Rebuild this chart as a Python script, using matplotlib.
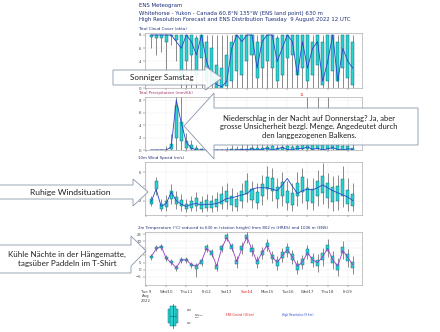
import matplotlib
matplotlib.use('Agg')
import matplotlib.pyplot as plt
from matplotlib.patches import Polygon, Rectangle

W, H = 440, 332

## time axis: 6-hourly steps, days since Tue 9 Aug 00 UTC ##
steps = [0.25 + 0.25 * i for i in range(41)]
day_labels = ['Tue 9\nAug\n2022', 'Wed10', 'Thu11', 'Fri12', 'Sat13', 'Sun14',
              'Mon15', 'Tue16', 'Wed17', 'Thu18', 'Fri19']

## Total cloud cover (okta) ##
cc_lo = [6, 5, 5.5, 2, 6.5, 4, 0, 0, 0, 0, 0, 0, 0, 0, 0, 0, 0, 0, 0, 0, 0,
         0, 0, 0, 0, 0, 0, 0, 0, 0, 0, 0, 0, 0, 0, 0, 0, 0, 0, 0, 0]
cc_q25 = [7.7, 7.5, 7.6, 7, 7.8, 7.2, 1.5, 4, 5, 2, 4.5, 1, 0.5, 0, 0, 0.3, 1, 2.5, 2, 4, 5,
          1.5, 3, 4, 3, 1, 2, 4.5, 5, 2, 3, 1, 2, 3.5, 0.5, 1, 2.5, 1, 3, 1.5, 0.5]
cc_q75 = [8, 8, 8, 8, 8, 8, 8, 8, 8, 7.5, 8, 7, 6, 3.5, 3, 5, 7, 8, 8, 8, 8,
          7, 8, 8, 8, 7.5, 8, 8, 8, 8, 8, 8, 7, 8, 7, 8, 8, 7, 8, 8, 7]
cc_hi = [8, 8, 8, 8, 8, 8, 8, 8, 8, 8, 8, 8, 8, 8, 8, 8, 8, 8, 8, 8, 8,
         8, 8, 8, 8, 8, 8, 8, 8, 8, 8, 8, 8, 8, 8, 8, 8, 8, 8, 8, 8]
cc_hres = [8, 8, 8, 8, 8, 7, 6, 8, 7, 5, 8, 4, 2, 0.5, 0.2, 1, 6, 8, 7, 8, 8,
           3, 7, 8, 8, 4, 6, 8, 7, 2, 7, 3, 6, 7, 1, 4, 8, 1, 6, 4, 3]

## Total precipitation (mm/6h) ##
pr_lo = [0, 0, 0, 0, 0, 0, 0, 0, 0, 0, 0, 0, 0, 0, 0, 0, 0, 0, 0, 0, 0,
         0, 0, 0, 0, 0, 0, 0, 0, 0, 0, 0, 0, 0, 0, 0, 0, 0, 0, 0, 0]
pr_q25 = [0, 0, 0, 0, 0.2, 2, 1.5, 0.3, 0.2, 0, 0, 0, 0, 0, 0, 0, 0, 0, 0, 0, 0,
          0, 0, 0, 0.05, 0, 0, 0.05, 0, 0, 0.1, 0.1, 0.05, 0.1, 0.05, 0.1, 0.1, 0.05, 0, 0, 0]
pr_q75 = [0, 0, 0, 0.05, 1, 7, 4.5, 1.5, 0.8, 0.3, 0.1, 0.05, 0, 0, 0, 0.05, 0.1, 0.1, 0.2, 0.2, 0.3,
          0.4, 0.3, 0.5, 0.6, 0.4, 0.5, 0.7, 0.5, 0.6, 0.8, 0.9, 0.8, 1, 0.8, 1, 0.9, 0.8, 0.7, 0.6, 0.4]
pr_hi = [0, 0, 0.2, 0.6, 2.5, 8.5, 8.5, 2.8, 1.6, 0.8, 0.4, 0.3, 0.2, 0.1, 0.2, 0.5, 0.8, 0.6, 1.2, 0.9, 1.5,
         2, 1.2, 1.8, 2.5, 1.5, 2.2, 3, 2, 2.5, 3.5, 8.5, 4, 8.5, 3, 8.5, 5, 6, 3, 2.5, 1.5]
pr_hres = [0, 0, 0, 0, 0.5, 8, 4.3, 1.2, 0.3, 0, 0, 0, 0, 0, 0, 0, 0, 0, 0.1, 0, 0.2,
           0, 0.1, 0.3, 0, 0.2, 0.4, 0.1, 0, 0.3, 0.2, 0.5, 0.1, 0.3, 0, 0.2, 0.4, 0.1, 0, 0.2, 0.1]

## 10m wind speed (m/s) ##
wd_lo = [1.2, 2.8, 0.5, 0.6, 1.6, 0.9, 0.6, 0.4, 0.5, 0.6, 0.4, 0.5, 0.4, 0.5, 0.8, 0.9, 0.6, 0.5, 1.0, 1.8, 1.0,
         0.8, 1.4, 2.2, 2.0, 1.0, 1.2, 0.7, 0.5, 1.3, 1.7, 0.8, 0.7, 1.2, 1.5, 1.0, 0.6, 0.7, 1.1, 0.6, 0.5]
wd_q25 = [1.5, 3.6, 0.9, 1.1, 2.2, 1.5, 1.2, 0.8, 1.0, 1.3, 0.9, 1.0, 1.0, 1.1, 1.6, 1.8, 1.4, 1.1, 1.9, 3.0, 2.1,
          1.7, 2.6, 3.6, 3.4, 2.2, 2.7, 1.7, 1.4, 2.6, 3.2, 1.9, 1.7, 2.6, 3.1, 2.4, 1.8, 2.0, 2.7, 1.6, 1.3]
wd_q75 = [2.2, 4.7, 1.6, 2.0, 3.4, 2.5, 2.1, 1.5, 1.9, 2.4, 1.8, 2.1, 1.9, 2.2, 2.9, 3.3, 2.7, 2.2, 3.4, 4.7, 3.6,
          3.2, 4.3, 5.3, 5.2, 3.9, 4.6, 3.4, 3.1, 4.5, 5.3, 3.8, 3.6, 4.7, 5.4, 4.4, 3.9, 4.1, 5.0, 3.5, 2.9]
wd_hi = [2.6, 5.3, 2.2, 2.8, 4.3, 3.3, 2.9, 2.2, 2.7, 3.2, 2.6, 3.0, 2.8, 3.2, 4.0, 4.4, 3.8, 3.2, 4.5, 5.8, 4.8,
         4.5, 5.6, 6.8, 6.5, 5.2, 6.0, 4.8, 4.5, 6.0, 6.6, 5.2, 5.2, 6.3, 7.2, 5.8, 5.4, 5.6, 6.8, 5.2, 4.5]
wd_hres = [1.8, 3.6, 1.2, 1.6, 3.2, 2.0, 1.5, 1.2, 1.5, 1.6, 1.4, 1.5, 1.5, 1.6, 1.9, 2.3, 2.4, 2.6, 2.8, 3.0, 3.6,
           3.8, 3.8, 3.8, 3.6, 3.4, 4.2, 5.1, 4.0, 3.0, 3.4, 3.6, 3.5, 3.8, 4.2, 3.8, 3.4, 3.1, 2.8, 2.5, 2.0]

## 2m temperature (C) ##
t_lo = [7, 13.2, 14, 6.3, 3.5, -0.7, 4.9, 4.9, 1.4, -5.0, 2.5, 12.2, 8.7, -1.0, 12.2, 19.9, 12.9, 1.5, 11.2, 18.9, 9.8,
        1.5, 7.7, 13.3, 5.0, -0.2, 5.3, 8.8, 4.0, -3.0, 0.5, 7.4, 1.9, -1.2, 3.0, 9.2, 0.9, -4.0, 7.8, 2.3, -2.6]
t_q25 = [8.2, 14.4, 15.2, 7.5, 4.7, 0.5, 6.1, 6.1, 2.6, 0.8, 4.3, 14.0, 10.5, 0.8, 14.0, 21.7, 14.7, 3.9, 13.6, 21.3, 12.2,
         3.9, 10.1, 15.7, 7.4, 2.8, 8.3, 11.8, 7.0, 0.0, 3.5, 10.4, 4.9, 2.4, 6.6, 12.8, 4.5, -0.4, 11.4, 5.9, 1.0]
t_q75 = [9.8, 16.0, 16.8, 9.1, 6.3, 2.1, 7.7, 7.7, 4.2, 3.2, 6.7, 16.4, 12.9, 3.2, 16.4, 24.1, 17.1, 7.1, 16.8, 24.5, 15.4,
         7.1, 13.3, 18.9, 10.6, 6.8, 12.3, 15.8, 11.0, 4.0, 7.5, 14.4, 8.9, 7.2, 11.4, 17.6, 9.3, 4.4, 16.2, 10.7, 5.8]
t_hi = [11, 17.2, 18, 10.3, 7.5, 3.3, 8.9, 8.9, 5.4, 5.0, 8.5, 18.2, 14.7, 5.0, 18.2, 25.9, 18.9, 9.5, 19.2, 26.9, 17.8,
        9.5, 15.7, 21.3, 13.0, 9.8, 15.3, 18.8, 14.0, 7.0, 10.5, 17.4, 11.9, 10.8, 15.0, 21.2, 12.9, 8.0, 19.8, 14.3, 9.4]
t_hres = [9, 14.5, 16.5, 8, 5, 1.5, 7, 7, 3.5, 2.5, 6, 15, 12, 2.5, 15, 22.5, 16, 5.5, 15, 23, 14,
          5.5, 12, 17, 9, 5, 10, 14, 9, 2.5, 5.5, 12, 7, 5, 9, 15, 7, 2.5, 13.5, 8.5, 3.5]

fig = plt.figure(figsize=(4.4, 3.32), dpi=100)


def pax(x0, y0, x1, y1):
    # axes from pixel box (top-left origin)
    return fig.add_axes([x0 / W, 1 - y1 / H, (x1 - x0) / W, (y1 - y0) / H])


def style(ax, ylim, yticks, title, tcolor):
    ax.set_xlim(-0.05, 10.7)
    ax.set_ylim(*ylim)
    ax.set_yticks(yticks)
    ax.set_xticks(range(11))
    ax.set_xticklabels([])
    ax.tick_params(labelsize=2.8, length=1.5, width=0.3, colors='#444', pad=1)
    ax.grid(True, color='#c8c8c8', lw=0.3, ls=':')
    for s in ax.spines.values():
        s.set_color('#9a9a9a')
        s.set_linewidth(0.4)
    ax.set_axisbelow(True)
    ax.text(-0.03, 1.04, title, transform=ax.transAxes, fontsize=2.9, color=tcolor, va='bottom')


def boxes(ax, lo, q25, q75, hi):
    ax.vlines(steps, lo, hi, color='#4a4a4a', lw=0.45, zorder=2)
    ax.bar(steps, [b - a for a, b in zip(q25, q75)], bottom=q25, width=0.15,
           color='#2ad2d2', edgecolor='#0b5e66', lw=0.3, zorder=3)


ax1 = pax(145, 33, 362, 88)
style(ax1, (0, 8.3), [0, 2, 4, 6, 8], 'Total Cloud Cover (okta)', '#1f2f7a')
ax1.set_yticklabels(['0', '', '4', '6', '8'])  # '2' sits under the callout
boxes(ax1, cc_lo, cc_q25, cc_q75, cc_hi)
ax1.plot(steps, cc_hres, color='#2746c8', lw=0.6, zorder=4)

ax2 = pax(145, 97, 362, 150)
style(ax2, (0, 8.5), [0, 2, 4, 6, 8], 'Total Precipitation (mm/6h)', '#a0306a')
boxes(ax2, pr_lo, pr_q25, pr_q75, pr_hi)
ax2.plot(steps, pr_hres, color='#2746c8', lw=0.6, zorder=4)
ax2.text(7.7, 8.7, '11', color='#e02020', fontsize=2.5, ha='center')

ax3 = pax(145, 162, 362, 215)
style(ax3, (0, 7.4), [2, 4, 6], '10m Wind Speed (m/s)', '#1f2f7a')
boxes(ax3, wd_lo, wd_q25, wd_q75, wd_hi)
ax3.plot(steps, wd_hres, color='#2746c8', lw=0.6, zorder=4)

ax4 = pax(145, 232, 362, 285)
style(ax4, (-10.6, 26.4), [-5, 0, 5, 10, 15, 20, 25],
      '2m Temperature (\u00b0C) reduced to 630 m (station height) from 802 m (HRES) and 1006 m (ENS)', '#1f2f7a')
boxes(ax4, t_lo, t_q25, t_q75, t_hi)
ax4.plot(steps, t_hres, color='#9a3cc8', lw=0.6, zorder=4)
ax4.set_xticklabels(day_labels)
ax4.tick_params(axis='x', labelsize=2.8, pad=2)
ax4.get_xticklabels()[5].set_color('#e02020')
for lab in ax4.get_xticklabels():
    lab.set_verticalalignment('top')

## overlay: header, legend, callouts ##
ov = fig.add_axes([0, 0, 1, 1], zorder=10)
ov.set_xlim(0, W)
ov.set_ylim(H, 0)
ov.axis('off')

hdr = dict(fontsize=3.9, color='#1f2f7a', va='center', ha='left')
ov.text(139, 5, 'ENS Meteogram', **hdr)
ov.text(139, 13, 'Whitehorse - Yukon - Canada 60.8\u00b0N 135\u00b0W (ENS land point) 630 m', **hdr)
ov.text(139, 20, 'High Resolution Forecast and ENS Distribution Tuesday  9 August 2022 12 UTC', **hdr)

# legend box icon
ov.plot([173, 173], [304, 328], color='#4a4a4a', lw=0.5)
ov.add_patch(Rectangle((168, 309), 10, 14, facecolor='#2ad2d2', edgecolor='#0b5e66', lw=0.3))
ov.add_patch(Rectangle((170, 306), 6, 20, facecolor='#2ad2d2', edgecolor='#0b5e66', lw=0.3))
ov.plot([170, 176], [316, 316], color='#0b5e66', lw=0.4)
ov.text(187, 310, 'max\n90%', fontsize=1.6, color='#333', va='center')
ov.text(195, 316, '75%\nmedian\n25%', fontsize=1.6, color='#333', va='center')
ov.text(187, 323, '10%\nmin', fontsize=1.6, color='#333', va='center')
ov.text(240, 315, 'ENS Control (18 km)', fontsize=2.0, color='#e02020', ha='center', va='center')
ov.text(298, 315, 'High Resolution (9 km)', fontsize=2.0, color='#2746c8', ha='center', va='center')

edge = '#8796aa'
face = (1, 1, 1, 0.9)
cfont = dict(family=['Lato', 'DejaVu Sans'], color='#222', ha='center', va='center')


def right_callout(x0, x1, y0, y1, hy0, hy1, tip):
    pts = [(x0, y0), (x1, y0), (x1, hy0), tip, (x1, hy1), (x1, y1), (x0, y1)]
    ov.add_patch(Polygon(pts, closed=True, facecolor=face, edgecolor=edge, lw=0.6))


right_callout(113, 205, 70, 85, 66, 90, (222, 78))
ov.text(162, 77.5, 'Sonniger Samstag', fontsize=5.9, **cfont)

right_callout(-2, 133, 185, 199, 179, 206, (148, 192))
ov.text(70, 192, 'Ruhige Windsituation', fontsize=6.1, **cfont)

right_callout(-2, 131, 245, 273, 236, 266, (146, 251))
ov.text(67, 259, 'K\u00fchle N\u00e4chte in der H\u00e4ngematte,\ntags\u00fcber Paddeln im T-Shirt',
        fontsize=5.8, linespacing=1.25, **cfont)

pts = [(418, 108), (418, 145), (214, 145), (214, 159), (184, 126), (214, 93), (214, 108)]
ov.add_patch(Polygon(pts, closed=True, facecolor=face, edgecolor=edge, lw=0.6))
ov.text(309, 126.5, 'Niederschlag in der Nacht auf Donnerstag? Ja, aber\n'
        'grosse Unsicherheit bezgl. Menge. Angedeutet durch\nden langgezogenen Balkens.',
        fontsize=5.5, linespacing=1.25, **cfont)

fig.savefig('out.png', dpi=100)
